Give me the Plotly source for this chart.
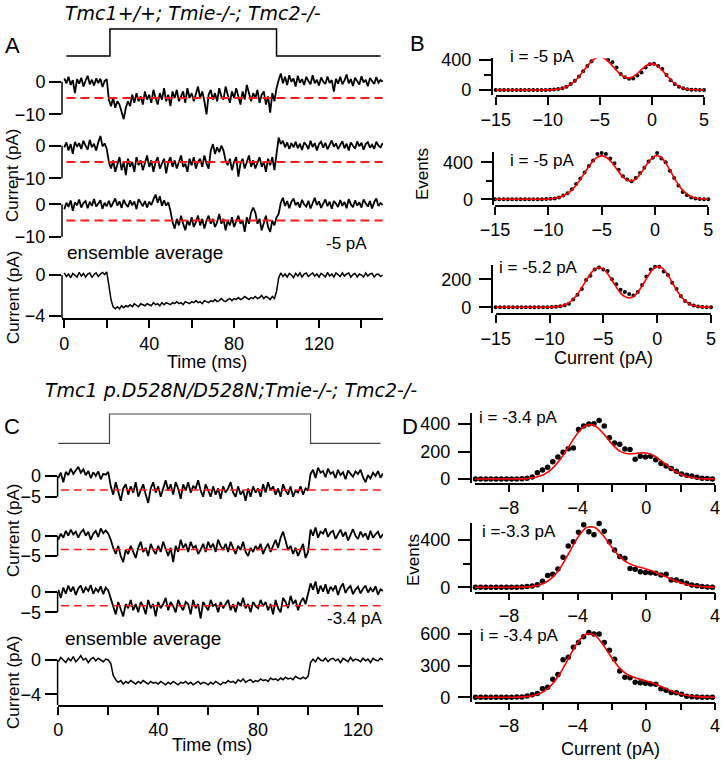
import numpy as np
import plotly.graph_objects as go

W, H = 725, 762
FONT = "Liberation Sans, Arial, sans-serif"
TFONT = "DejaVu Sans, Liberation Sans, sans-serif"

# ---------------- data ----------------
t_A = np.arange(0, 151)          # ms
t_C = np.arange(0, 131)          # ms
stimA_t = [1, 21.5, 21.5, 100, 100, 149]
stimC_t = [0, 20.5, 20.5, 101, 101, 129]
stim_level = [0, 0, 1, 1, 0, 0]
unitary_A = -5.0
unitary_C = -3.4

A1 = [1.0, -0.5, 1.5, -1.0, 0.5, -3.5, 0.8, -0.6, 1.2, -1.5,
      0.3, 1.8, -0.8, 0.6, -1.2, 1.0, -0.4, 0.9, -1.6, 0.2,
      0.8, -5.5, -7.5, -5.0, -8.0, -6.0, -7.0, -9.0, -11.5, -8.0,
      -6.0, -7.5, -4.0, -6.5, -3.5, -6.0, -4.5, -7.0, -3.0, -5.5,
      -4.0, -6.5, -2.5, -5.0, -7.0, -3.5, -5.5, -2.0, -6.0, -4.0,
      -7.5, -3.0, -5.0, -2.5, -6.0, -4.5, -3.0, -6.5, -2.0, -5.0,
      -3.5, -6.0, -4.0, -1.5, -5.0, -3.0, -6.0, -10.0, -4.0, -2.5,
      -5.5, -3.5, -6.0, -2.0, -4.5, -5.5, -1.5, -4.0, -6.5, -3.0,
      -5.0, -2.0, -4.5, -7.0, -3.0, -5.5, -1.0, -4.0, -6.0, -3.5,
      -5.0, -2.5, -6.5, -4.0, -3.0, -7.0, -4.5, -9.5, -3.5, -6.0,
      -2.0, 0.5, 2.5, -0.5, 1.5, -1.0, 2.0, 0.0, 1.0, -1.5,
      1.8, -0.3, 0.8, -1.0, 1.5, 0.2, -0.8, 2.0, -0.5, 0.6,
      -1.2, 1.3, 0.0, -0.7, 1.6, -0.4, 0.5, -3.0, 0.9, -0.6,
      1.5, -0.8, 0.4, 2.2, -0.5, 0.8, -1.3, 1.2, 0.1, -0.9,
      1.7, -0.2, 0.6, -1.4, 1.1, 0.3, -0.7, 1.4, -0.3, 0.5, 0.0]
A2 = [-0.5, 1.0, -1.5, 0.5, -2.5, 1.2, -0.3, 0.8, -1.0, 1.5,
      0.0, -1.2, 1.8, -0.5, 0.6, -1.5, 1.0, 3.0, -0.2, 0.7,
      -1.0, -5.0, -7.0, -4.5, -8.0, -5.5, -3.5, -7.5, -5.0, -9.0,
      -4.0, -6.5, -5.0, -8.0, -3.5, -6.0, -4.5, -7.5, -5.0, -3.0,
      -6.5, -4.5, -8.0, -5.0, -3.5, -7.0, -5.5, -4.0, -8.5, -5.0,
      -3.5, -6.5, -4.5, -7.0, -5.0, -3.0, -6.5, -5.5, -8.0, -4.0,
      -6.0, -3.5, -7.0, -5.0, -4.0, -6.5, -3.0, -5.5, -7.0, -1.5,
      0.5, -2.5, -0.5, -2.0, 0.0, -1.5, -4.5, -6.0, -4.0, -7.5,
      -5.0, -3.5, -9.5, -5.5, -4.0, -7.0, -5.0, -3.0, -6.5, -4.5,
      -7.0, -5.0, -3.5, -6.5, -5.0, -8.0, -4.0, -6.0, -3.5, -7.5,
      -2.5, 2.5, 0.5, 1.5, -0.5, 1.0, -1.0, 0.8, -0.5, 1.2,
      -0.8, 0.6, -1.3, 1.0, 0.2, -1.0, 1.5, -0.4, 0.8, -1.5,
      0.5, 1.2, -0.6, 0.9, -1.1, 0.4, 1.6, -0.3, 0.7, -1.0,
      0.2, 1.4, -0.8, 0.6, -1.5, 1.0, 0.0, -0.9, 1.3, -0.2,
      0.9, -1.2, 0.5, 1.1, -0.6, 0.3, -1.0, 1.2, 0.0, -0.5, 0.8]
A3 = [-1.5, 0.5, -0.8, 1.2, -2.0, 0.6, -0.3, 1.5, -1.0, 0.4,
      1.0, -1.2, 0.8, -0.5, 1.6, -0.7, 0.2, 1.3, -1.4, 0.5,
      -0.6, 1.1, -0.9, 0.7, 1.8, -0.4, 0.9, -1.1, 1.4, 0.0,
      -0.8, 1.2, -0.3, 0.9, -1.5, 1.6, 0.3, -0.6, 1.0, -1.0,
      0.8, -0.2, 1.5, 3.0, 0.5, 2.5, -0.5, 1.2, -0.4, 0.6,
      -2.0, -5.5, -7.5, -4.5, -6.5, -3.5, -6.0, -8.0, -5.0, -6.5,
      -4.0, -7.0, -5.5, -3.5, -6.5, -4.5, -7.5, -5.0, -3.5, -6.0,
      -4.5, -7.0, -5.5, -3.0, -6.0, -4.5, -8.0, -5.0, -6.5, -4.0,
      -7.0, -5.5, -3.5, -6.0, -5.0, -8.5, -4.0, -6.0, -2.5, -1.0,
      -2.5, -6.0, -4.5, -8.0, -5.5, -3.5, -7.0, -8.5, -5.0, -6.5,
      -4.0, -3.0, 0.5, 2.0, -0.5, 1.0, -1.2, 0.8, 1.8, -0.3,
      0.6, -1.0, 1.4, 0.0, -0.7, 1.1, -1.3, 0.5, 2.0, -0.2,
      0.9, -1.1, 0.4, 1.5, -0.6, 0.8, -1.4, 1.0, 0.2, -0.8,
      1.3, -0.5, 0.7, -1.2, 1.6, 0.0, -0.9, 1.2, -0.4, 0.6,
      -1.0, 1.5, 0.3, -0.7, 1.0, -1.3, 0.6, 1.8, -0.5, 0.4, -0.2]
A_ens = [0.2, -0.15, 0.1, -0.25, 0.15, 0.0, -0.2, 0.25, -0.1, 0.15,
         -0.2, 0.1, 0.2, -0.25, 0.05, 0.2, -0.15, 0.1, 0.25, 0.05,
         0.3, -1.0, -2.4, -3.1, -3.3, -3.1, -3.3, -3.0, -3.2, -3.0,
         -3.1, -2.9, -3.1, -2.8, -3.0, -3.1, -2.8, -2.9, -3.0, -2.8,
         -2.9, -3.0, -2.7, -2.9, -2.8, -3.0, -2.7, -2.9, -2.7, -2.8,
         -2.9, -2.7, -2.8, -2.6, -2.8, -2.7, -2.9, -2.6, -2.7, -2.8,
         -2.6, -2.7, -2.5, -2.7, -2.6, -2.8, -2.5, -2.6, -2.7, -2.5,
         -2.6, -2.4, -2.6, -2.5, -2.3, -2.5, -2.6, -2.4, -2.3, -2.5,
         -2.3, -2.4, -2.2, -2.4, -2.3, -2.1, -2.3, -2.4, -2.2, -2.3,
         -2.1, -2.3, -2.2, -2.0, -2.3, -2.1, -2.2, -2.4, -2.1, -2.3,
         -1.6, -0.3, 0.2, -0.15, 0.1, -0.2, 0.15, 0.0, -0.25, 0.15,
         -0.1, 0.2, -0.2, 0.1, 0.2, -0.15, 0.05, 0.2, -0.1, 0.1,
         -0.2, 0.15, 0.0, -0.2, 0.25, -0.1, 0.1, -0.2, 0.2, 0.0,
         -0.15, 0.2, -0.1, 0.1, 0.2, -0.2, 0.05, 0.15, -0.2, 0.1,
         0.0, -0.2, 0.2, -0.1, 0.1, 0.15, -0.2, 0.05, 0.1, -0.15, 0.0]

C1 = [-0.5, 0.8, -1.5, 1.0, 0.2, 1.8, 0.5, 1.5, 2.2, 0.8,
      1.6, 0.2, 1.2, -0.5, 0.9, 0.0, 1.1, -0.8, 0.5, 0.3,
      1.0, -2.5, -4.5, -1.5, -3.5, -6.0, -3.0, -2.0, -4.5, -2.5,
      -4.0, -1.5, -5.0, -3.5, -2.0, -4.5, -6.5, -3.0, -1.5, -4.0,
      -2.5, -5.0, -3.0, -1.0, -3.5, -2.0, -4.5, -1.5, -3.0, -5.5,
      -2.0, -3.5, -1.5, -4.0, -2.5, -3.0, -1.0, -3.5, -5.0, -2.0,
      -3.5, -5.0, -2.5, -4.5, -3.0, -5.5, -2.5, -4.0, -3.0, -1.5,
      -4.0, -5.0, -2.5, -4.5, -3.5, -6.0, -3.0, -5.0, -2.5, -4.0,
      -3.0, -5.0, -2.0, -4.0, -1.5, -3.5, -2.5, -4.5, -3.0, -5.0,
      -2.0, -3.5, -4.5, -2.5, -5.0, -3.5, -4.0, -2.5, -4.5, -3.0,
      -3.5, 0.5, 1.5, -0.5, 2.0, 0.8, 1.2, -0.3, 1.8, 0.5,
      1.0, -0.5, 1.5, 0.2, 0.9, -0.8, 1.3, 0.4, -0.2, 1.1,
      0.5, 1.5, -0.3, -1.5, 0.2, -0.6, 0.8, 0.0, 1.2, -0.4,
      0.6]
C2 = [-1.0, 0.5, -0.5, 1.2, 0.0, 1.5, 0.3, 1.0, -0.5, 0.8,
      1.5, 0.0, 1.0, -1.0, 0.5, 1.2, -0.3, 1.8, 0.6, 1.3,
      0.5, -1.0, -3.0, -4.5, -2.5, -5.0, -6.5, -3.5, -4.5, -2.5,
      -4.0, -5.5, -3.0, -1.5, -4.0, -3.0, -5.0, -2.0, -3.5, -4.5,
      -2.5, -4.0, -1.5, -3.5, -5.0, -3.0, -6.5, -2.5, -4.0, -1.0,
      -3.0, -2.0, -4.0, -1.5, -3.0, -2.5, -4.5, -3.5, -2.0, -4.0,
      -1.5, -3.0, -2.0, -4.0, -1.0, -2.5, -3.5, -2.0, -4.0, -1.5,
      -3.0, -4.5, -2.5, -3.5, -1.5, -4.0, -5.0, -3.0, -4.0, -2.5,
      -3.5, -2.0, -4.5, -3.0, -2.0, -4.0, -2.5, -1.0, -3.0, -0.5,
      1.0, -1.0, -3.5, -2.5, -4.5, -3.0, -5.0, -3.5, -2.0, -5.5,
      -4.0, 1.5, 0.0, 2.0, -0.5, 1.0, 0.5, 1.8, -0.3, 0.8,
      1.2, -0.8, 0.5, 1.5, -0.2, 0.9, -1.2, 0.4, 1.6, 0.0,
      -0.8, 1.0, -0.2, 0.6, -1.0, 1.2, -0.5, 0.3, 1.0, -0.6,
      0.4]
C3 = [0.5, -1.5, 1.0, -0.5, 1.5, 0.0, 1.2, -0.8, 0.8, 1.5,
      -0.3, 1.0, 0.2, 1.6, -0.5, 0.8, 0.0, 1.3, -0.6, 1.0,
      0.3, -1.5, -3.5, -5.5, -2.5, -4.5, -6.0, -3.0, -4.0, -2.0,
      -4.5, -3.0, -5.0, -2.5, -3.5, -5.5, -2.0, -4.0, -3.0, -6.0,
      -2.5, -4.0, -3.0, -1.5, -4.5, -2.5, -3.5, -5.0, -2.0, -3.5,
      -4.5, -2.5, -3.0, -5.5, -2.0, -4.0, -3.0, -6.5, -2.5, -3.5,
      -4.5, -2.0, -3.5, -3.0, -5.0, -2.5, -4.0, -3.0, -2.0, -4.5,
      -3.0, -5.0, -2.5, -3.5, -1.5, -4.0, -3.0, -5.0, -2.5, -3.5,
      -4.0, -2.0, -3.5, -2.5, -4.5, -3.0, -5.5, -2.0, -4.0, -5.0,
      -1.5, -2.5, -4.0, -1.0, -3.0, -2.0, -4.5, -2.5, -1.5, -3.0,
      -0.5, 2.0, 0.5, 2.5, -0.5, 1.5, 0.0, 1.8, -0.5, 1.2,
      0.3, 1.5, -0.8, 1.0, 2.0, -0.3, 0.8, 1.4, -0.6, 0.5,
      1.2, -0.4, 0.7, 1.5, -0.2, 0.9, 0.0, 1.3, -0.7, 0.6,
      0.2]
C_ens = [-0.2, 0.3, 0.0, -0.3, 0.2, -0.1, 0.4, -0.2, 0.1, 0.5,
         0.0, 0.2, -0.3, 0.1, 0.3, -0.1, 0.2, 0.0, -0.2, 0.1,
         0.0, -0.4, -1.8, -2.3, -2.6, -2.4, -2.8, -2.5, -2.7, -2.4,
         -2.6, -2.8, -2.5, -2.7, -2.4, -2.6, -2.8, -2.5, -2.7, -2.6,
         -2.8, -2.5, -2.7, -2.9, -2.6, -2.8, -2.5, -2.7, -2.9, -2.6,
         -2.7, -2.5, -2.8, -2.6, -2.9, -2.7, -2.5, -2.8, -2.6, -2.7,
         -2.9, -2.6, -2.8, -2.5, -2.7, -2.9, -2.6, -2.7, -2.4, -2.6,
         -2.5, -2.7, -2.3, -2.5, -2.2, -2.6, -2.4, -2.3, -2.6, -2.4,
         -2.5, -2.2, -2.4, -2.3, -2.5, -2.1, -2.3, -2.2, -2.4, -2.1,
         -2.3, -2.0, -2.2, -2.1, -2.3, -1.9, -2.1, -2.2, -2.0, -2.2,
         -1.9, -0.3, 0.1, -0.2, 0.3, 0.0, -0.1, 0.2, -0.2, 0.1,
         0.2, -0.1, 0.1, -0.3, 0.2, 0.0, -0.2, 0.3, -0.1, 0.1,
         0.0, -0.2, 0.2, -0.1, 0.1, -0.3, 0.2, 0.0, -0.1, 0.2,
         0.0]

# amplitude histograms (panel B): bins of 0.4 pA, fit sampled every 0.5 pA
bins_B = np.round(np.arange(-15, 5.001, 0.4), 2)
fitx_B = np.arange(-15, 5.001, 0.5)
B1_events = [0, 0, 0, 0, 0, 0, 0, 0, 0, 0, 0, 0, 1, 3, 6, 13, 24, 45, 80, 125,
             180, 250, 320, 385, 430, 460, 455, 400, 370, 300, 215, 170, 150, 155, 195,
             235, 300, 345, 350, 320, 280, 200, 130, 80, 45, 22, 10, 4, 2, 1, 0]
B1_fit = [0, 0, 0, 0, 0, 0, 0, 0, 0.2, 0.5, 1.7, 4.9, 12.6, 29, 60,
          110, 181, 267, 352, 416, 440, 417, 355, 276, 205, 165, 167, 209, 273, 330,
          352, 325, 260, 180, 107, 55, 24, 9, 3, 1, 0]
B2_events = [0, 0, 0, 0, 0, 0, 0, 0, 0, 0, 0, 0, 2, 5, 10, 20, 40, 65, 110, 165,
             225, 290, 360, 420, 490, 500, 490, 440, 390, 320, 250, 215, 195, 230, 285,
             340, 410, 450, 500, 440, 400, 310, 230, 150, 80, 45, 20, 8, 3, 1, 0]
B2_fit = [0, 0, 0, 0, 0, 0, 0, 0, 0.4, 1.3, 3.6, 9, 21, 43, 81,
          139, 215, 303, 387, 448, 470, 449, 391, 314, 243, 203, 206, 256, 338, 420,
          469, 460, 394, 296, 193, 110, 55, 24, 9, 3, 1]
B3_events = [0, 0, 0, 0, 0, 0, 0, 0, 0, 0, 0, 0, 0, 2, 4, 8, 14, 25, 55, 90,
             130, 195, 225, 270, 285, 270, 260, 200, 165, 125, 110, 95, 85, 110, 160,
             220, 270, 290, 290, 255, 230, 175, 130, 80, 45, 25, 12, 5, 2, 1, 0]
B3_fit = [0, 0, 0, 0, 0, 0, 0, 0, 0, 0, 1, 3, 8, 20, 45,
          85, 141, 204, 258, 284, 273, 229, 168, 112, 76, 68, 91, 141, 205, 262,
          291, 278, 230, 163, 100, 53, 24, 10, 3, 1, 0]

# amplitude histograms (panel D): bins of 0.3 pA, fit sampled every 0.5 pA
bins_D = np.round(-9.95 + 0.3 * np.arange(47), 2)
fitx_D = np.arange(-10, 4.001, 0.5)
D1_events = [0, 0, 0, 0, 0, 0, 0, 0, 0, 2, 5, 15, 45, 65, 85,
             125, 160, 195, 220, 225, 360, 385, 400, 402, 425, 385, 300, 262, 252, 218,
             215, 143, 165, 160, 165, 140, 112, 95, 76, 56, 36, 28, 22, 12, 6, 4, 0]
D1_fit = [0, 0, 0, 0, 0, 1, 3, 11, 31, 74, 145, 240, 333, 391, 387,
          330, 254, 199, 182, 188, 189, 165, 120, 71, 34, 14, 4, 1, 0]
D2_events = [0, 0, 0, 0, 0, 0, 0, 0, 0, 2, 6, 12, 22, 52, 100,
             110, 155, 255, 350, 385, 465, 530, 470, 445, 540, 475, 385, 315, 260, 245,
             160, 152, 132, 125, 124, 118, 104, 110, 62, 62, 48, 34, 20, 14, 6, 2, 0]
D2_fit = [0, 0, 0, 0, 0, 1, 3, 10, 32, 80, 168, 292, 420, 503, 506,
          436, 336, 251, 200, 174, 155, 129, 97, 66, 39, 20, 9, 4, 1]
D3_events = [0, 0, 0, 0, 0, 0, 0, 0, 2, 4, 12, 25, 35, 80, 95,
             170, 215, 355, 380, 475, 520, 575, 615, 600, 600, 520, 445, 360, 250, 190,
             185, 142, 138, 132, 126, 124, 80, 68, 45, 42, 30, 10, 6, 2, 1, 0, 0]
D3_fit = [0, 0, 0, 0, 0, 2, 6, 19, 52, 121, 233, 379, 519, 599, 587,
          494, 370, 267, 206, 177, 155, 128, 92, 58, 31, 14, 6, 2, 0]

# ---------------- figure ----------------
fig = go.Figure()
_n = [0]


def rng(m, pa, pb):
    v1, p1, v2, p2 = m
    k = (v2 - v1) / (p2 - p1)
    return [v1 + (pa - p1) * k, v1 + (pb - p1) * k]


TICKFONT = dict(family=FONT, size=18, color="black")
BASE = dict(showgrid=False, zeroline=False, showline=False, linecolor="black",
            linewidth=1.5, ticks="outside", tickcolor="black", tickwidth=1.5,
            tickfont=TICKFONT, fixedrange=True, automargin=False)
HIDE = dict(visible=False)


def axes(xmap, xdom, ymap, ydom, xkw, ykw):
    _n[0] += 1
    s = "" if _n[0] == 1 else str(_n[0])
    xr = rng(xmap, xdom[0], xdom[1])
    yr = rng(ymap, ydom[1], ydom[0])
    xa = dict(BASE, domain=[xdom[0] / W, xdom[1] / W], range=xr, anchor="y" + s)
    xa.update(xkw)
    ya = dict(BASE, domain=[1 - ydom[1] / H, 1 - ydom[0] / H], range=yr, anchor="x" + s)
    ya.update(ykw)
    fig.update_layout(**{"xaxis" + s: xa, "yaxis" + s: ya})
    return "x" + s, "y" + s, yr


def line(x, y, xr, yr, color="black", width=1, dash=None):
    fig.add_trace(go.Scatter(x=x, y=y, xaxis=xr, yaxis=yr, mode="lines",
                             line=dict(color=color, width=width, dash=dash),
                             hoverinfo="skip"))


def bracket(xr, yr, px, y0, y1):
    fig.add_shape(type="line", xref="paper", yref=yr, x0=px / W, x1=px / W,
                  y0=y0, y1=y1, line=dict(color="black", width=1.5), layer="above")


def ann(text, x, y, size=17, xanchor="center", family=FONT, angle=0):
    fig.add_annotation(text=text, x=x / W, y=1 - y / H, xref="paper", yref="paper",
                       showarrow=False, xanchor=xanchor, yanchor="middle",
                       textangle=angle, font=dict(family=family, size=size, color="black"))


def time_panels(tmap, xdom, stim_t, stim_ymap, stim_dom, stim_color, stim_w,
                traces, tr_maps, tr_doms, ytick_lo, unitary, dash, dash_w,
                t, ens, ens_map, ens_dom, ens_ticks, xticks, xtext):
    xa, ya, _ = axes(tmap, xdom, stim_ymap, stim_dom, HIDE, HIDE)
    line(stim_t, stim_level, xa, ya, color=stim_color, width=stim_w)
    for tr, m, d in zip(traces, tr_maps, tr_doms):
        xa, ya, yr = axes(tmap, xdom, m, d, HIDE,
                          dict(tickvals=[0, ytick_lo], ticklen=12, ticklabelstandoff=0))
        line(t, tr, xa, ya, width=1.8)
        line([t[1], t[-1]], [unitary, unitary], xa, ya, color="#ff1a1a", width=dash_w, dash=dash)
        bracket(xa, ya, xdom[0], ytick_lo, 0)
    xa, ya, yr = axes(tmap, xdom, ens_map, ens_dom,
                      dict(showline=True, tickvals=xticks, ticktext=xtext, ticklen=8),
                      dict(tickvals=ens_ticks, ticklen=12, ticklabelstandoff=0))
    line(t, ens, xa, ya, width=1.5)
    bracket(xa, ya, xdom[0], yr[0], 0)


# Panel A
time_panels((0, 64.3, 120, 319.0), (62.0, 383.0), stimA_t, (0, 56, 1, 29), (24, 60),
            "black", 1.5, [A1, A2, A3],
            [(0, 81.7, -10, 114.3), (0, 145.7, -10, 178.3), (0, 204.3, -10, 236.7)],
            [(66, 126), (130, 190), (190, 250)], -10, unitary_A, "9px,5px", 2,
            t_A, A_ens, (0, 275, -4, 316), (266, 318.3), [0, -4],
            [0, 20, 40, 60, 80, 100, 120, 140], ["0", "", "40", "", "80", "", "120", ""])

# Panel C
time_panels((0, 58.3, 120, 358.0), (57.6, 383.0), stimC_t, (0, 443.3, 1, 414), (408, 448),
            "#444444", 1.2, [C1, C2, C3],
            [(0, 476, -5, 496.7), (0, 535.7, -5, 556), (0, 591.7, -5, 612.3)],
            [(462, 508), (522, 568), (578, 622)], -5, unitary_C, "8px,5px", 1.5,
            t_C, C_ens, (0, 660, -4, 694.3), (651, 705), [0, -4],
            [0, 20, 40, 60, 80, 100, 120], ["0", "", "40", "", "80", "", "120"])


def hist_panel(xmap, xdom, ymap, ydom, ypos, yticks, minor, xticks, xtext, xtl,
               bins, ev, fx, fit, msize):
    ykw = dict(showline=True, anchor="free", position=ypos / W, tickvals=yticks,
               ticklen=12, ticklabelstandoff=4)
    if minor:
        ykw["minor"] = dict(tickvals=minor, ticklen=7, tickcolor="black", tickwidth=1.5,
                            ticks="outside")
    xkw = dict(showline=True, tickvals=xticks, ticklen=xtl)
    if xtext is not None:
        xkw["ticktext"] = xtext
    xa, ya, _ = axes(xmap, xdom, ymap, ydom, xkw, ykw)
    fig.add_trace(go.Scatter(x=bins, y=ev, xaxis=xa, yaxis=ya, mode="markers",
                             marker=dict(color="black", size=msize), cliponaxis=False,
                             hoverinfo="skip"))
    fig.add_trace(go.Scatter(x=fx, y=fit, xaxis=xa, yaxis=ya, mode="lines",
                             line=dict(color="red", width=1.6, shape="spline", smoothing=0.8),
                             hoverinfo="skip"))


BX = [-15, -10, -5, 0, 5]
hist_panel((-15, 495.7, 5, 704), (495.7, 704), (0, 90, 400, 60), (58.3, 95), 491.7,
           [0, 400], [200], BX, None, 8, bins_B, B1_events, fitx_B, B1_fit, 4)
hist_panel((-15, 495, 5, 708.3), (495, 708.3), (0, 199.3, 400, 162.3), (151.7, 205), 493.3,
           [0, 400], [200], BX, None, 8, bins_B, B2_events, fitx_B, B2_fit, 4)
hist_panel((-15, 495.7, 5, 711), (495.7, 711), (0, 307.3, 200, 279.3), (265, 313.3), 491.7,
           [0, 200], None, BX, None, 8, bins_B, B3_events, fitx_B, B3_fit, 4)

DX = [-10, -8, -6, -4, -2, 0, 2, 4]
DXT = ["", "\u22128", "", "\u22124", "", "0", "", "4"]
DMAP = (-8, 509, 4, 715)
hist_panel(DMAP, (474.7, 715), (0, 479, 400, 424), (413.3, 483.3), 470.7,
           [0, 200, 400], None, DX, DXT, 7, bins_D, D1_events, fitx_D, D1_fit, 5.5)
hist_panel(DMAP, (474.7, 715), (0, 587.3, 400, 540), (523.3, 591.7), 470.7,
           [0, 400], [200], DX, DXT, 7, bins_D, D2_events, fitx_D, D2_fit, 5.5)
hist_panel(DMAP, (474.7, 715), (0, 697.3, 600, 634), (630, 701.7), 470.7,
           [0, 300, 600], None, DX, DXT, 7, bins_D, D3_events, fitx_D, D3_fit, 5.5)

# ---------------- text ----------------
ann("<i>Tmc1+/+; Tmie-/-; Tmc2-/-</i>", 193, 13, size=19, family=TFONT)
ann("<i>Tmc1 p.D528N/D528N;Tmie-/-; Tmc2-/-</i>", 231, 390, size=19, family=TFONT)
for lab, x, y in [("A", 12, 45), ("B", 418, 43), ("C", 12, 426), ("D", 410, 426)]:
    ann(lab, x, y, size=22)
for y in (175, 297, 530, 682):
    ann("Current (pA)", 13, y, size=17, angle=-90)
ann("Events", 422, 174, size=17, angle=-90)
ann("Events", 413, 560, size=17, angle=-90)
ann("ensemble average", 145, 252, size=19)
ann("ensemble average", 143, 638, size=19)
ann("-5 pA", 346, 243, size=17)
ann("-3.4 pA", 325, 618, size=17, xanchor="left")
ann("Time (ms)", 207, 362, size=18)
ann("Time (ms)", 212, 745, size=18)
ann("Current (pA)", 603, 358, size=18)
ann("Current (pA)", 610, 749, size=18)
for txt, x, y in [("i = -5 pA", 508, 57), ("i = -5 pA", 508, 160), ("i = -5.2 pA", 497, 267),
                  ("i = -3.4 pA", 477, 417), ("i =-3.3 pA", 480, 531), ("i = -3.4 pA", 478, 635)]:
    ann(txt, x, y, size=17, xanchor="left")

fig.update_layout(template="none", width=W, height=H, margin=dict(l=0, r=0, t=0, b=0, pad=0),
                  paper_bgcolor="white", plot_bgcolor="rgba(0,0,0,0)", showlegend=False)
fig.write_html("out.html", config={"displayModeBar": False},
               post_script="document.body.style.margin='0';document.body.style.overflow='hidden';")
